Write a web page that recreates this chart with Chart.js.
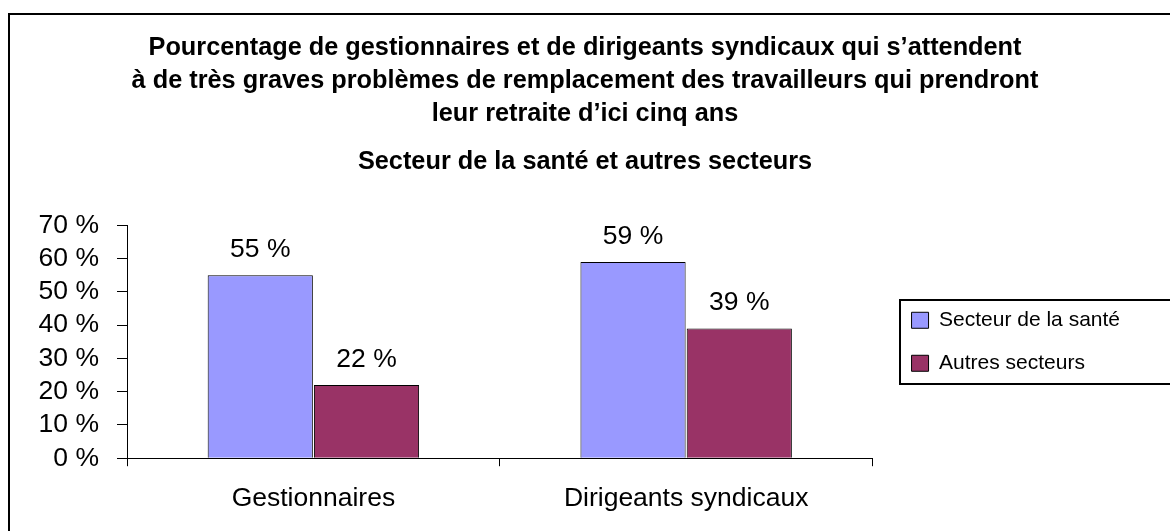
<!DOCTYPE html>
<html>
<head>
<meta charset="utf-8">
<script src="https://cdn.jsdelivr.net/npm/chart.js@4/dist/chart.umd.min.js"></script>
<style>
  body { margin: 0; background: #fff; }
  .wrap { position: relative; width: 1170px; height: 531px; overflow: hidden; }
  /* outer frame, only left + top edges are visible in the crop */
  .frame { position: absolute; left: 8px; top: 13px; width: 1300px; height: 700px;
           border-left: 2px solid #000; border-top: 2px solid #000; pointer-events: none; }
</style>
</head>
<body>
<div class="wrap">
  <canvas id="chart" width="1170" height="531"></canvas>
  <div class="frame"></div>
</div>
<script>
const categories = ['Gestionnaires', 'Dirigeants syndicaux']
const seriesNames = ['Secteur de la santé', 'Autres secteurs']
const santeValues = [55, 59]
const autresValues = [22, 39]
const yTicks = [0, 10, 20, 30, 40, 50, 60, 70]
const titleLines = [
  'Pourcentage de gestionnaires et de dirigeants syndicaux qui s\u2019attendent',
  '\u00e0 de tr\u00e8s graves probl\u00e8mes de remplacement des travailleurs qui prendront',
  'leur retraite d\u2019ici cinq ans'
]
const subtitleText = 'Secteur de la sant\u00e9 et autres secteurs'

Chart.defaults.font.family = '"Liberation Sans", Arial, sans-serif'
Chart.defaults.color = '#000'

// value written above each bar
const barValueLabels = {
  id: 'barValueLabels',
  afterDatasetsDraw(chart) {
    let ctx = chart.ctx
    ctx.save()
    ctx.font = '26.5px "Liberation Sans", Arial, sans-serif'
    ctx.fillStyle = '#000'
    ctx.textAlign = 'center'
    ctx.textBaseline = 'alphabetic'
    chart.data.datasets.forEach(function (ds, i) {
      chart.getDatasetMeta(i).data.forEach(function (bar, j) {
        ctx.fillText(ds.data[j] + ' %', bar.x, bar.y - 18)
      })
    })
    ctx.restore()
  }
}

// titles centred on the whole canvas; legend moved off the plot,
// centred on it, with a box round it
const layoutTweaks = {
  id: 'layoutTweaks',
  afterLayout(chart) {
    chart.boxes.forEach(function (b) {
      if (b.position === 'top' && b.fullSize) {
        b.left = 0
        b.right = chart.width
        b.width = chart.width
      }
    })
    let lg = chart.legend
    let area = chart.chartArea
    let dy = (area.top + area.bottom) / 2 - (lg.top + lg.bottom) / 2
    lg.left += 17
    lg.right += 17
    lg.top += dy
    lg.bottom += dy
  },
  afterDraw(chart) {
    let lg = chart.legend
    let ctx = chart.ctx
    let mid = Math.round((lg.top + lg.bottom) / 2)
    let x = Math.round(lg.left + lg.options.labels.padding - 12)
    ctx.save()
    ctx.strokeStyle = '#000'
    ctx.lineWidth = 2
    ctx.strokeRect(x, mid - 42, chart.width, 84)
    ctx.restore()
  }
}

new Chart(document.getElementById('chart'), {
  type: 'bar',
  data: {
    labels: categories,
    datasets: [
      { label: seriesNames[0], data: santeValues, backgroundColor: '#9999ff', borderColor: '#000', borderWidth: 1 },
      { label: seriesNames[1], data: autresValues, backgroundColor: '#993366', borderColor: '#000', borderWidth: 1 }
    ]
  },
  options: {
    responsive: false,
    animation: false,
    categoryPercentage: 0.57,
    barPercentage: 0.99,
    layout: { padding: { left: 20, right: 57, top: 0, bottom: -1 } },
    plugins: {
      tooltip: { enabled: false },
      title: {
        display: true,
        text: titleLines,
        color: '#000',
        font: { size: 25.3, weight: 'bold', lineHeight: '33px' },
        padding: { top: 32, bottom: 0 }
      },
      subtitle: {
        display: true,
        text: subtitleText,
        color: '#000',
        font: { size: 25.3, weight: 'bold' },
        padding: { top: 16, bottom: 48 }
      },
      legend: {
        position: 'right',
        labels: {
          color: '#000',
          font: { size: 21 },
          boxWidth: 17,
          boxHeight: 16,
          padding: 22
        }
      }
    },
    scales: {
      x: {
        grid: { drawOnChartArea: false, tickLength: 8, color: '#000', offset: true },
        border: { color: '#000' },
        ticks: { color: '#000', font: { size: 26.5 }, padding: 17, maxRotation: 0 }
      },
      y: {
        min: 0,
        max: 70,
        grid: { drawOnChartArea: false, tickLength: 10, color: '#000' },
        border: { color: '#000' },
        ticks: {
          color: '#000',
          font: { size: 26.5 },
          padding: 18,
          autoSkip: false,
          callback: function (v) { return v + ' %' }
        },
        afterFit: function (scale) { scale.width = 107 },
        afterBuildTicks: function (scale) { scale.ticks = yTicks.map(function (v) { return { value: v } }) }
      }
    }
  },
  plugins: [barValueLabels, layoutTweaks]
})
</script>
</body>
</html>
